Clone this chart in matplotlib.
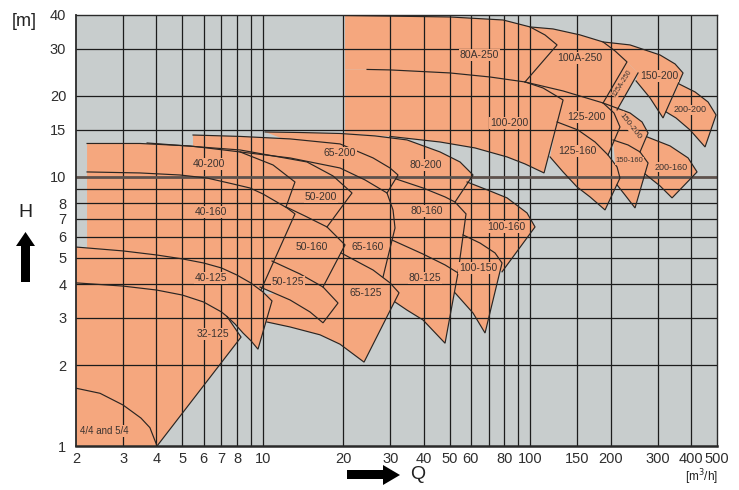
import matplotlib
matplotlib.use('Agg')
import matplotlib.pyplot as plt
from matplotlib.patches import Polygon
from matplotlib.ticker import NullLocator, FixedLocator, FixedFormatter

plt.rcParams['font.family'] = ['Liberation Sans', 'DejaVu Sans']

# ---------------- data (Q [m3/h], H [m]) ----------------
CURVE_44_Q = [2, 2.46, 3, 3.5, 3.78, 4.02]
CURVE_44_H = [1.64, 1.57, 1.42, 1.27, 1.17, 1.0]

# each pump: top curve (drawn), bottom after right edge (drawn), fill-only closing points
P32_125_TOP = [(2, 4.04), (3, 3.93), (4, 3.80), (5, 3.64), (6, 3.43), (7, 3.15), (7.34, 3.03)]
P32_125_BOT = [(8.29, 2.54), (4.02, 1.0)]
P32_125_EXT = [(2, 1.0)]

P40_125_TOP = [(2, 5.49), (3, 5.31), (4, 5.13), (5, 4.96), (6, 4.79), (7, 4.59), (8, 4.32), (9, 4.04), (10, 3.74), (10.82, 3.46)]
P40_125_BOT = [(9.59, 2.29), (9.03, 2.46), (8.43, 2.63), (7.87, 2.84), (7.34, 3.03)]
P40_125_EXT = [(7, 3.15), (6, 3.43), (5, 3.64), (4, 3.80), (3, 3.93), (2, 4.04)]

P40_160_TOP = [(2.2, 10.44), (3.47, 10.35), (4.90, 10.17), (6.18, 9.91), (7.73, 9.42), (8.95, 9.10), (10.0, 8.65), (12.32, 7.67), (13.19, 7.29)]
P40_160_BOT = [(9.84, 3.80)]
P40_160_EXT = [(9, 4.04), (8, 4.32), (7, 4.59), (6, 4.79), (5, 4.96), (4, 5.13), (3, 5.31), (2.2, 5.45)]

P40_200_TOP = [(2.2, 13.32), (3.47, 13.32), (5.34, 13.04), (8.22, 12.39), (10.92, 11.08), (13.19, 9.58)]
P40_200_BOT = [(12.21, 7.74)]
P40_200_EXT = [(10.0, 8.65), (8.95, 9.10), (7.73, 9.42), (6.18, 9.91), (4.90, 10.17), (3.47, 10.35), (2.2, 10.44)]

P50_200_TOP = [(3.69, 13.38), (8.22, 12.60), (14.63, 11.37), (18.30, 10.09), (21.56, 8.72)]
P50_200_BOT = [(17.38, 6.52)]
P50_200_EXT = [(14.38, 7.16), (12.21, 7.74)]

P50_160_TOP = [(12.21, 7.74), (14.38, 7.16), (17.38, 6.52), (20.30, 5.59)]
P50_160_BOT = [(16.79, 3.90)]
P50_160_EXT = [(13.77, 4.36), (10.82, 4.87)]

P50_125_TOP = [(10.82, 4.87), (13.77, 4.36), (16.79, 3.90), (19.11, 3.40)]
P50_125_BOT = [(16.79, 2.87), (15.01, 3.15), (12.64, 3.49), (9.76, 3.90)]
P50_125_EXT = []

P65_200_TOP = [(5.48, 14.32), (8.22, 14.15), (12.64, 13.85), (19.44, 13.27), (25.84, 11.77), (29.90, 10.80), (32.04, 10.17)]
P65_200_BOT = [(29.14, 8.72)]
P65_200_EXT = [(24.11, 9.75), (19.44, 10.80), (12.64, 11.77), (8.22, 12.39), (5.48, 12.60)]

P65_160_TOP = [(8.22, 12.39), (12.64, 11.77), (19.44, 10.80), (24.11, 9.75), (29.14, 8.72), (30.69, 7.54), (31.22, 6.46)]
P65_160_BOT = [(28.16, 4.25)]
P65_160_EXT = [(25.84, 4.51), (19.61, 5.22)]

P65_125_TOP = [(19.61, 5.22), (25.84, 4.51), (29.90, 4.04), (32.32, 3.71)]
P65_125_BOT = [(23.91, 2.05), (19.44, 2.39), (16.36, 2.59), (12.64, 2.77), (10.36, 2.89)]
P65_125_EXT = [(9.93, 3.64), (16.79, 3.90)]

P80_200_TOP = [(10.19, 14.70), (13.77, 14.63), (19.44, 14.51), (26.29, 14.21), (34.62, 13.73), (46.0, 12.39), (54.66, 11.37), (61.14, 10.17)]
P80_200_BOT = [(52.35, 8.07)]
P80_200_EXT = [(42.2, 8.95), (32.6, 9.66), (29.14, 9.91)]

P80_160_TOP = [(31.5, 9.83), (39.74, 9.10), (48.04, 8.43), (52.35, 8.07), (57.55, 7.29)]
P80_160_BOT = [(53.71, 4.40)]
P80_160_EXT = [(48.04, 4.71), (39.74, 5.17), (30.42, 5.83), (31.22, 6.46), (30.69, 7.54), (29.14, 8.72)]

P80_125_TOP = [(30.42, 5.83), (39.74, 5.17), (48.04, 4.71), (53.71, 4.40)]
P80_125_BOT = [(48.04, 2.41), (39.74, 2.94), (34.62, 3.20), (31.22, 3.43)]
P80_125_EXT = [(28.16, 4.25)]

P100_150_TOP = [(56.09, 6.09), (64.94, 5.68), (73.88, 5.22), (78.48, 4.79)]
P100_150_BOT = [(67.8, 2.63), (61.14, 3.12), (52.35, 3.71)]
P100_150_EXT = [(53.71, 4.40)]

P100_160_TOP = [(58.07, 9.58), (70.78, 8.87), (81.96, 8.36), (97.34, 7.35), (104.3, 6.52)]
P100_160_BOT = [(78.48, 4.44)]
P100_160_EXT = [(56.09, 6.09), (57.55, 7.29), (52.35, 8.07)]

P100_200_TOP = [(24.54, 25.1), (29.9, 25.0), (50.1, 24.36), (70.78, 23.53), (95.66, 22.55), (111.7, 21.42), (121.8, 20.35), (132.8, 19.33)]
P100_200_BOT = [(112.7, 10.35), (95.66, 11.18), (81.96, 11.87), (62.2, 12.82), (46.0, 13.49), (29.9, 14.15)]
P100_200_EXT = [(20.3, 14.51), (20.3, 25.1)]

P80A_250_TOP = [(20.3, 39.84), (50.1, 39.33), (79.2, 38.33), (99.89, 36.12), (113.6, 33.73), (126.1, 30.96)]
P80A_250_BOT = [(95.66, 22.55)]
P80A_250_EXT = [(70.78, 23.53), (50.1, 24.36), (29.9, 25.0), (24.54, 25.1), (20.3, 25.1)]

P100A_250_TOP = [(99.89, 36.12), (121.8, 35.5), (153.7, 33.73), (187.4, 31.76), (207.8, 29.4), (230.3, 26.77)]
P100A_250_BOT = [(187.4, 18.84)]
P100A_250_EXT = [(132.8, 20.88), (95.66, 22.55)]

P125_200_TOP = [(95.66, 22.55), (132.8, 20.88), (187.4, 18.84), (205.9, 17.29), (216.8, 15.34)]
P125_200_BOT = [(195.6, 12.07)]
P125_200_EXT = [(174.9, 13.49), (151.0, 14.95), (126.1, 16.01)]

P125_160_TOP = [(126.1, 16.01), (151.0, 14.95), (174.9, 13.49), (195.6, 12.07), (211.4, 10.89), (216.8, 9.91)]
P125_160_BOT = [(190.6, 7.54), (167.5, 8.43), (149.8, 9.18), (132.8, 10.44), (118.7, 11.87)]
P125_160_EXT = []

P150_200B_TOP = [(187.4, 18.84), (236.4, 17.29), (262.2, 16.01), (276.1, 14.57)]
P150_200B_BOT = [(257.6, 12.39)]
P150_200B_EXT = [(232.4, 13.15), (204.2, 13.73)]

P150_160_TOP = [(204.2, 13.73), (232.4, 13.15), (257.6, 12.39), (276.1, 11.27)]
P150_160_BOT = [(246.8, 7.67), (226.4, 8.57), (211.4, 9.34)]
P150_160_EXT = []

P200_160_TOP = [(273.8, 14.09), (333.8, 13.04), (389.8, 11.77), (421.1, 10.44)]
P200_160_BOT = [(339.5, 8.36), (306.1, 9.26), (269.0, 10.26)]
P200_160_EXT = [(276.1, 11.27), (257.6, 12.39)]

P150_200_TOP = [(187.4, 31.76), (236.4, 30.96), (306.1, 28.41), (348.4, 26.31), (373.2, 24.36)]
P150_200_BOT = [(314.1, 16.57), (280.9, 19.67), (249.0, 22.75)]
P150_200_EXT = [(253.3, 24.36), (230.3, 26.77)]

P125A_250_TOP = [(253.3, 24.36)]
P125A_250_BOT = [(211.4, 17.75)]
P125A_250_EXT = [(187.4, 18.84), (230.3, 26.77)]

P200_200_TOP = [(360.6, 22.17), (413.9, 20.7), (462.9, 19.0), (496.0, 17.0)]
P200_200_BOT = [(451.1, 12.93), (396.4, 14.95), (351.2, 16.57), (322.4, 17.45)]
P200_200_EXT = []

PUMPS = [
    (P32_125_TOP, P32_125_BOT, P32_125_EXT),
    (P40_125_TOP, P40_125_BOT, P40_125_EXT),
    (P40_160_TOP, P40_160_BOT, P40_160_EXT),
    (P40_200_TOP, P40_200_BOT, P40_200_EXT),
    (P50_200_TOP, P50_200_BOT, P50_200_EXT),
    (P50_160_TOP, P50_160_BOT, P50_160_EXT),
    (P50_125_TOP, P50_125_BOT, P50_125_EXT),
    (P65_200_TOP, P65_200_BOT, P65_200_EXT),
    (P65_160_TOP, P65_160_BOT, P65_160_EXT),
    (P65_125_TOP, P65_125_BOT, P65_125_EXT),
    (P80_200_TOP, P80_200_BOT, P80_200_EXT),
    (P80_160_TOP, P80_160_BOT, P80_160_EXT),
    (P80_125_TOP, P80_125_BOT, P80_125_EXT),
    (P100_150_TOP, P100_150_BOT, P100_150_EXT),
    (P100_160_TOP, P100_160_BOT, P100_160_EXT),
    (P100_200_TOP, P100_200_BOT, P100_200_EXT),
    (P80A_250_TOP, P80A_250_BOT, P80A_250_EXT),
    (P100A_250_TOP, P100A_250_BOT, P100A_250_EXT),
    (P125_200_TOP, P125_200_BOT, P125_200_EXT),
    (P125_160_TOP, P125_160_BOT, P125_160_EXT),
    (P150_200B_TOP, P150_200B_BOT, P150_200B_EXT),
    (P150_160_TOP, P150_160_BOT, P150_160_EXT),
    (P200_160_TOP, P200_160_BOT, P200_160_EXT),
    (P150_200_TOP, P150_200_BOT, P150_200_EXT),
    (P125A_250_TOP, P125A_250_BOT, P125A_250_EXT),
    (P200_200_TOP, P200_200_BOT, P200_200_EXT),
]

LABEL_TEXT = ['4/4 and 5/4', '32-125', '40-125', '40-160', '40-200', '50-200', '50-160', '50-125',
              '65-200', '65-160', '65-125', '80-200', '80-160', '80-125', '100-150', '100-160',
              '100-200', '80A-250', '100A-250', '125-200', '125-160', '125A-250', '150-200',
              '150-200', '150-160', '200-160', '200-200']
LABEL_Q = [2.07, 6.51, 6.40, 6.40, 6.29, 16.5, 15.27, 12.42,
           19.44, 24.75, 24.32, 40.8, 41.1, 40.5, 63.8, 81.2,
           83.4, 64.4, 153.7, 161.8, 149.8, 220.8, 303.4,
           236.4, 234.4, 336.6, 396.4]
LABEL_H = [1.137, 2.61, 4.21, 7.41, 11.18, 8.43, 5.49, 4.07,
           12.28, 5.49, 3.71, 11.08, 7.47, 4.21, 4.59, 6.52,
           15.88, 28.41, 27.7, 16.71, 12.5, 22.36, 23.74,
           15.47, 11.47, 10.89, 17.75]
LABEL_ROT = [0, 0, 0, 0, 0, 0, 0, 0, 0, 0, 0, 0, 0, 0, 0, 0,
             0, 0, 0, 0, 0, 58, 0, -52, 0, 0, 0]
LABEL_SIZE = [7.0, 7.5, 7.5, 7.5, 7.5, 7.5, 7.5, 7.5, 7.5, 7.5, 7.5, 7.5, 7.5, 7.5, 7.5, 7.5,
              7.5, 7.5, 7.5, 7.5, 7.5, 5.0, 7.5, 6.0, 5.5, 6.5, 6.5]

X_TICKS = [2, 3, 4, 5, 6, 7, 8, 10, 20, 30, 40, 50, 60, 80, 100, 150, 200, 300, 400, 500]
Y_TICKS = [1, 2, 3, 4, 5, 6, 7, 8, 10, 15, 20, 30, 40]
X_GRID = [3, 4, 5, 6, 7, 8, 9, 10, 20, 30, 40, 50, 60, 70, 80, 90, 100, 150, 200, 300, 400]
Y_GRID = [2, 3, 4, 5, 6, 7, 8, 9, 10, 15, 20, 30]

# ---------------- style ----------------
BG = '#c8cdcd'
OR = '#f5a77e'
LINE = '#2a2522'
TXT = '#3b3330'

W, Hpx = 739, 490
fig = plt.figure(figsize=(W / 100, Hpx / 100), dpi=100)
ax = fig.add_axes([76 / W, 1 - 446 / Hpx, (717 - 76) / W, (446 - 15) / Hpx])
ax.set_xscale('log')
ax.set_yscale('log')
ax.set_xlim(2, 500)
ax.set_ylim(1, 40)
ax.set_facecolor(BG)

for top, bot, ext in PUMPS:
    ax.add_patch(Polygon(top + bot + ext, closed=True, fc=OR, ec='none', zorder=1))

for q in X_GRID:
    ax.axvline(q, color='#1c1c1c', lw=0.9, zorder=2)
for h in Y_GRID:
    if h == 10:
        ax.axhline(h, color='#5e524d', lw=2.0, zorder=2)
    else:
        ax.axhline(h, color='#1c1c1c', lw=0.9, zorder=2)

for top, bot, ext in PUMPS:
    pts = top + bot
    ax.plot([p[0] for p in pts], [p[1] for p in pts], color=LINE, lw=0.85, zorder=3,
            solid_joinstyle='miter')
ax.plot(CURVE_44_Q, CURVE_44_H, color=LINE, lw=0.85, zorder=3)

for t, q, h, r, s in zip(LABEL_TEXT, LABEL_Q, LABEL_H, LABEL_ROT, LABEL_SIZE):
    ha = 'left' if t.startswith('4/4') else 'center'
    ax.text(q, h, t, ha=ha, va='center', rotation=r, fontsize=s, color=TXT, zorder=5,
            bbox=dict(boxstyle='square,pad=0.08', fc=OR, ec='none'))

ax.xaxis.set_major_locator(FixedLocator(X_TICKS))
ax.xaxis.set_major_formatter(FixedFormatter([str(v) for v in X_TICKS]))
ax.yaxis.set_major_locator(FixedLocator(Y_TICKS))
ax.yaxis.set_major_formatter(FixedFormatter([str(v) for v in Y_TICKS]))
ax.xaxis.set_minor_locator(NullLocator())
ax.yaxis.set_minor_locator(NullLocator())
ax.tick_params(axis='both', length=0, labelsize=10.5, colors='#2e2e2e')
ax.tick_params(axis='x', pad=4)
ax.tick_params(axis='y', pad=7)
for sp in ax.spines.values():
    sp.set_color('#2a2a2a')
    sp.set_linewidth(1.0)
ax.spines['bottom'].set_linewidth(1.8)
ax.spines['left'].set_linewidth(1.3)

# overlay for decorations in pixel space
ov = fig.add_axes([0, 0, 1, 1], facecolor='none')
ov.set_xlim(0, W)
ov.set_ylim(Hpx, 0)
ov.axis('off')
ov.add_patch(Polygon([(21, 282), (30, 282), (30, 246), (35, 246), (25.5, 232), (16, 246), (21, 246)],
                     closed=True, fc='black', ec='none'))
ov.add_patch(Polygon([(347, 470), (383, 470), (383, 465), (400, 475), (383, 485), (383, 479), (347, 479)],
                     closed=True, fc='black', ec='none'))
ov.text(25, 212, 'H', fontsize=14, ha='center', va='center', color='#222')
ov.text(418, 474, 'Q', fontsize=14, ha='center', va='center', color='#222')
ov.text(24, 22, '[m]', fontsize=13, ha='center', va='center', color='#222')
ov.text(718, 477, '[m$^3$/h]', fontsize=8.5, ha='right', va='center', color='#222')

fig.savefig('out.png', dpi=100)
